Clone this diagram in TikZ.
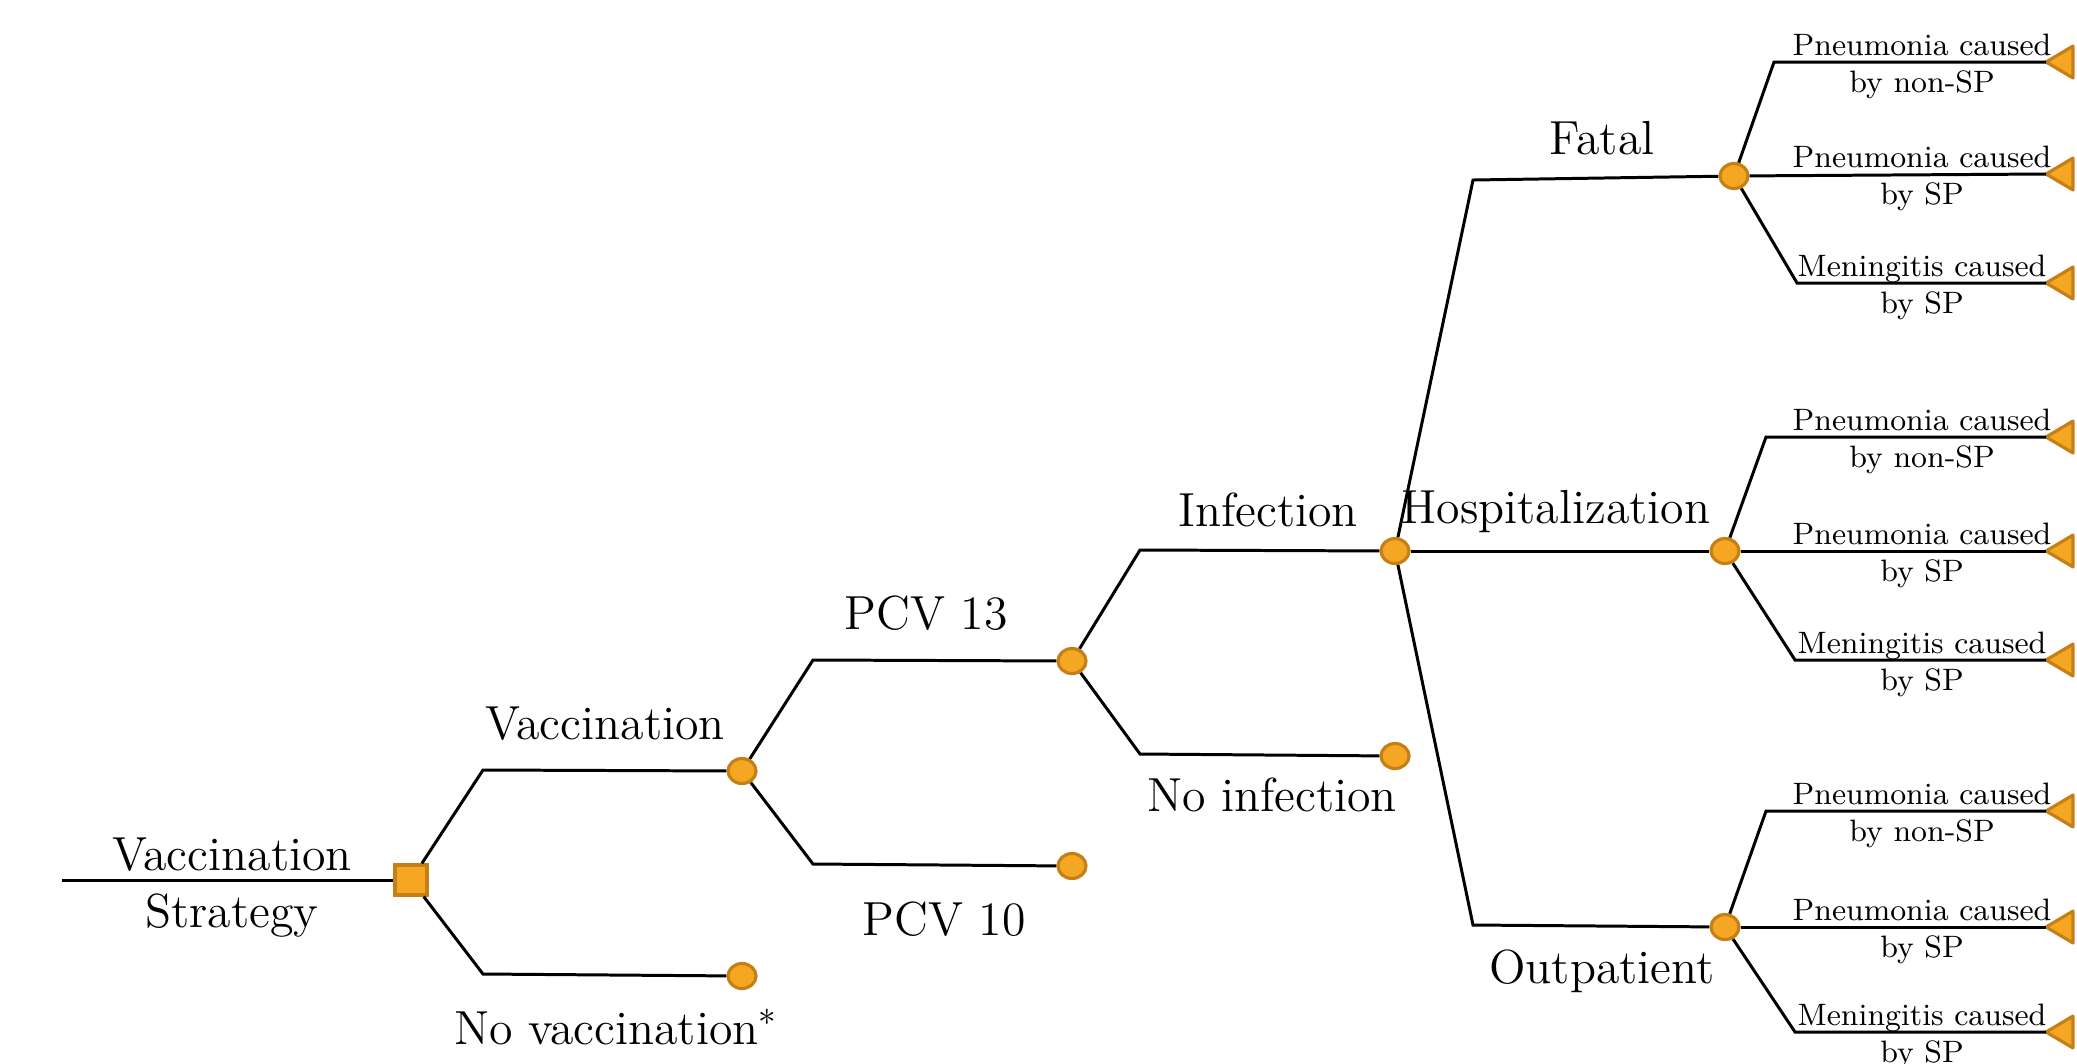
\documentclass[tikz,border=0pt]{standalone}
\usetikzlibrary{shapes.geometric}
\definecolor{nfill}{RGB}{245,166,35}
\definecolor{ndraw}{RGB}{196,128,22}
\begin{document}
\begin{tikzpicture}[x=0.01cm,y=-0.01cm,
  br/.style={line width=0.85pt,black},
  chance/.style={ellipse,fill=nfill,draw=ndraw,line width=0.9pt,minimum width=0.28cm,minimum height=0.25cm,inner sep=0pt},
  decision/.style={rectangle,fill=nfill,draw=ndraw,line width=0.9pt,minimum width=0.32cm,minimum height=0.30cm,inner sep=0pt},
  leafshape/.style={fill=nfill,draw=ndraw,line width=0.9pt,line join=round},
  big/.style={font=\fontsize{13.6}{16}\selectfont,inner sep=0pt,anchor=base},
  small/.style={font=\fontsize{8.8}{10}\selectfont,inner sep=0pt,anchor=base}]
\useasboundingbox (0,0) rectangle (2077,1063);
% root
\coordinate (start) at (62,880);
\node[decision] (d) at (411,880) {};
\node[chance] (c1) at (742,771) {};
\node[chance] (e1) at (742,976) {};
\node[chance] (c2) at (1072,661) {};
\node[chance] (e2) at (1072,866) {};
\node[chance] (c3) at (1395,551) {};
\node[chance] (e3) at (1395,756) {};
\node[chance] (c4) at (1734,176) {};
\node[chance] (c5) at (1725,551) {};
\node[chance] (c6) at (1725,927) {};
% leaves (triangle tips)
\foreach \n/\y in {a1/62,a2/174,a3/283,b1/437,b2/551,b3/660,o1/811,o2/927,o3/1032}{
  \coordinate (\n) at (2046,\y);
  \filldraw[leafshape] (\n) -- ++(27,-16) -- ++(0,32) -- cycle;
}
% elbows
\coordinate (k1) at (483,770);
\coordinate (k2) at (483,974);
\coordinate (k3) at (813,660);
\coordinate (k4) at (813,864);
\coordinate (k5) at (1140,550);
\coordinate (k6) at (1140,754);
\coordinate (k7) at (1473,180);
\coordinate (k8) at (1473,925);
\coordinate (fa1) at (1774,62);
\coordinate (fa3) at (1797,283);
\coordinate (hb1) at (1766,437);
\coordinate (hb3) at (1795,660);
\coordinate (ob1) at (1766,811);
\coordinate (ob3) at (1795,1032);
% connectors
\draw[br] (start) -- (d);
\draw[br] (d) -- (k1) -- (c1);
\draw[br] (d) -- (k2) -- (e1);
\draw[br] (c1) -- (k3) -- (c2);
\draw[br] (c1) -- (k4) -- (e2);
\draw[br] (c2) -- (k5) -- (c3);
\draw[br] (c2) -- (k6) -- (e3);
\draw[br] (c3) -- (k7) -- (c4);
\draw[br] (c3) -- (c5);
\draw[br] (c3) -- (k8) -- (c6);
\draw[br] (c4) -- (fa1) -- (a1);
\draw[br] (c4) -- (a2);
\draw[br] (c4) -- (fa3) -- (a3);
\draw[br] (c5) -- (hb1) -- (b1);
\draw[br] (c5) -- (b2);
\draw[br] (c5) -- (hb3) -- (b3);
\draw[br] (c6) -- (ob1) -- (o1);
\draw[br] (c6) -- (o2);
\draw[br] (c6) -- (ob3) -- (o3);
% labels
\node[big] (t0a) at (232,870) {Vaccination};
\node[big] (t0b) at (232,927) {Strategy};
\node[big] (t1) at (605,739) {Vaccination};
\node[big] (t2) at (616,1044) {No vaccination$^{*}$};
\node[big] (t3) at (926,629) {PCV 13};
\node[big] (t4) at (944,935) {PCV 10};
\node[big] (t5) at (1268,526) {Infection};
\node[big] (t6) at (1272,811) {No infection};
\node[big] (t7) at (1602,154) {Fatal};
\node[big] (t8) at (1556,523) {Hospitalization};
\node[big] (t9) at (1602,983) {Outpatient};
\foreach \y/\a/\b in {62/Pneumonia caused/by non-SP,174/Pneumonia caused/by SP,283/Meningitis caused/by SP,437/Pneumonia caused/by non-SP,551/Pneumonia caused/by SP,660/Meningitis caused/by SP,811/Pneumonia caused/by non-SP,927/Pneumonia caused/by SP,1032/Meningitis caused/by SP}{
  \node[small] at (1922,\y-7) {\a};
  \node[small] at (1922,\y+30) {\b};
}
\end{tikzpicture}
\end{document}
